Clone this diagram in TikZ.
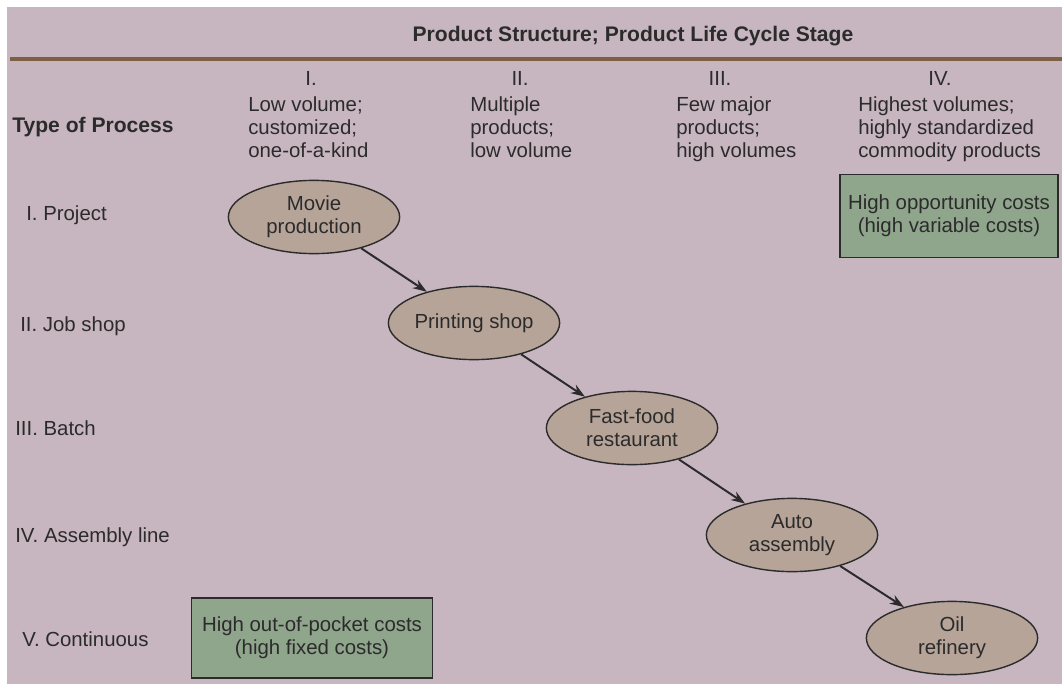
\documentclass[tikz,border=0pt]{standalone}
\usepackage{fontspec}
\setmainfont{Liberation Sans}
\usetikzlibrary{shapes.geometric, arrows.meta, positioning}
\definecolor{paperMauve}{HTML}{C7B5BF}
\definecolor{ovalTan}{HTML}{B6A499}
\definecolor{costGreen}{HTML}{8FA58C}
\definecolor{ruleBrown}{HTML}{7E5E45}
\definecolor{inkDark}{HTML}{2B2B2B}
\newcommand{\BodyFont}{\fontsize{14.5}{16.5}\selectfont}
\newcommand{\HeadFont}{\fontsize{15}{17}\selectfont\bfseries}
\tikzset{
    plaintext/.style={inner sep=0pt, text=inkDark, font=\BodyFont},
    headtext/.style={inner sep=0pt, text=inkDark, font=\HeadFont},
    stage/.style={ellipse, draw=inkDark, line width=1pt, fill=ovalTan, text=inkDark,
        minimum width=4.28cm, minimum height=1.83cm, inner sep=0pt, align=center, font=\BodyFont},
    costbox/.style={rectangle, draw=inkDark, line width=0.9pt, fill=costGreen, text=inkDark,
        inner sep=0pt, align=center, font=\BodyFont},
    flow/.style={-{Stealth[length=10pt, width=7pt]}, line width=1.4pt, inkDark}
}

\begin{document}
\begin{tikzpicture}[x=0.025cm, y=-0.025cm]
        \useasboundingbox (0,0) rectangle (1062,684);
        % Paper
        \fill[paperMauve] (7,7) rectangle (1062,684);

        % Title and rule
        \node[headtext] (title) at (633,36) {Product Structure; Product Life Cycle Stage};
        \draw[ruleBrown, line width=3pt] (10,59) -- (1062,59);

        % Column heads
        \node[headtext, anchor=west] (typehead) at (12,127) {Type of Process};
        \foreach \cx/\lx/\num/\desc [count=\i] in {
            311/248/I./{Low volume;\\customized;\\one-of-a-kind},
            520/470/II./{Multiple\\products;\\low volume},
            720/676/III./{Few major\\products;\\high volumes},
            940/858/IV./{Highest volumes;\\highly standardized\\commodity products}} {
            \node[plaintext] (num\i) at (\cx,78) {\num};
            \node[plaintext, anchor=north west, align=left] (col\i) at (\lx,96) {\desc};
        }

        % Row labels
        \foreach \ry/\rx/\rname [count=\j] in {215/26/I. Project, 326/20/II. Job shop,
            428/15/III. Batch, 537/15/IV. Assembly line, 639/22/V. Continuous}
            \node[plaintext, anchor=west] (row\j) at (\rx,\ry) {\rname};

        % Diagonal of stages
        \node[stage] (movie) at (314,217) {Movie\\production};
        \node[stage] (printing) at (474,323) {Printing shop};
        \node[stage] (fastfood) at (632,428) {Fast-food\\restaurant};
        \node[stage] (auto) at (792,535) {Auto\\assembly};
        \node[stage] (refinery) at (952,638) {Oil\\refinery};

        \foreach \a/\b in {movie/printing, printing/fastfood, fastfood/auto, auto/refinery}
            \draw[flow] (\a) -- (\b);

        % Cost boxes
        \node[costbox, minimum width=5.45cm, minimum height=2.08cm] (oppcost) at (949,216)
            {High opportunity costs\\(high variable costs)};
        \node[costbox, minimum width=6.03cm, minimum height=2cm] (fixcost) at (312,638)
            {High out-of-pocket costs\\(high fixed costs)};
    \end{tikzpicture}
\end{document}
